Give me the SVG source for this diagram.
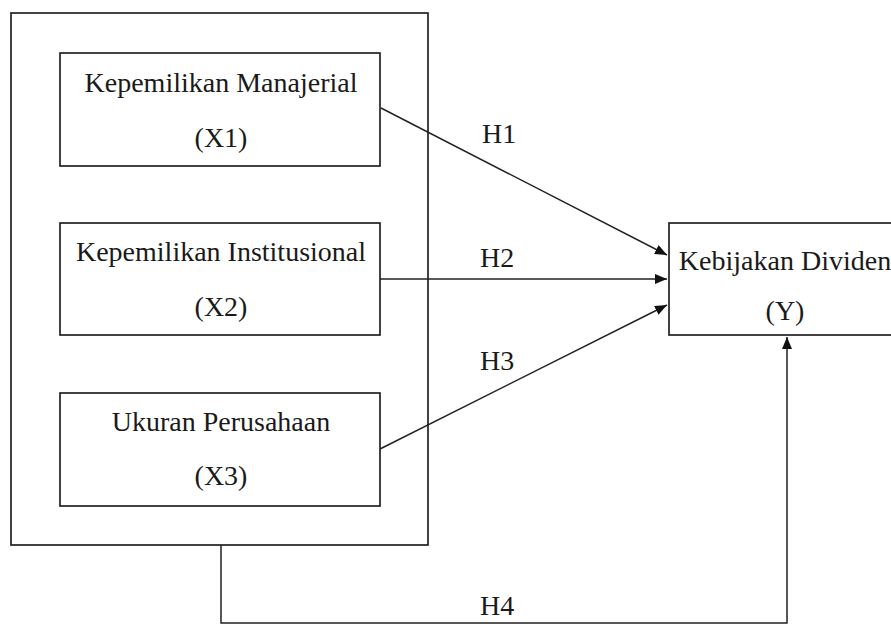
<svg xmlns="http://www.w3.org/2000/svg" width="891" height="624" viewBox="0 0 891 624">
<defs>
<style>
.box{fill:none;stroke:#222;stroke-width:1.7}
.ln{fill:none;stroke:#222;stroke-width:1.5}
text{font-family:"Liberation Serif","Times New Roman",serif;font-size:28px;fill:#1a1a1a}
.c{text-anchor:middle}
</style>
<marker id="ah" viewBox="0 0 12 10" refX="12" refY="5" markerWidth="12" markerHeight="10" markerUnits="userSpaceOnUse" orient="auto">
<path d="M0,0 L12,5 L0,10 Z" fill="#111"/>
</marker>
</defs>
<rect width="891" height="624" fill="#fff"/>
<g id="outer"><rect class="box" x="11" y="13" width="417" height="532"/></g>
<g id="x1">
<rect class="box" x="60" y="53" width="320" height="113"/>
<text class="c" x="221" y="92">Kepemilikan Manajerial</text>
<text class="c" x="221" y="147">(X1)</text>
</g>
<g id="x2">
<rect class="box" x="60" y="223" width="320" height="112"/>
<text class="c" x="221" y="261">Kepemilikan Institusional</text>
<text class="c" x="221" y="316">(X2)</text>
</g>
<g id="x3">
<rect class="box" x="60" y="393" width="320" height="113"/>
<text class="c" x="221" y="431">Ukuran Perusahaan</text>
<text class="c" x="221" y="485">(X3)</text>
</g>
<g id="y">
<rect class="box" x="669" y="223" width="235" height="112"/>
<text class="c" x="785" y="270">Kebijakan Dividen</text>
<text class="c" x="785" y="320">(Y)</text>
</g>
<g id="connectors">
<line class="ln" x1="381" y1="108" x2="667" y2="255" marker-end="url(#ah)"/>
<line class="ln" x1="380" y1="279" x2="667" y2="279" marker-end="url(#ah)"/>
<line class="ln" x1="380" y1="449" x2="667" y2="305" marker-end="url(#ah)"/>
<polyline class="ln" points="221,545 221,623 787,623 787,337" marker-end="url(#ah)"/>
<text x="482" y="143">H1</text>
<text x="480" y="267">H2</text>
<text x="480" y="370">H3</text>
<text x="480" y="615">H4</text>
</g>
</svg>
